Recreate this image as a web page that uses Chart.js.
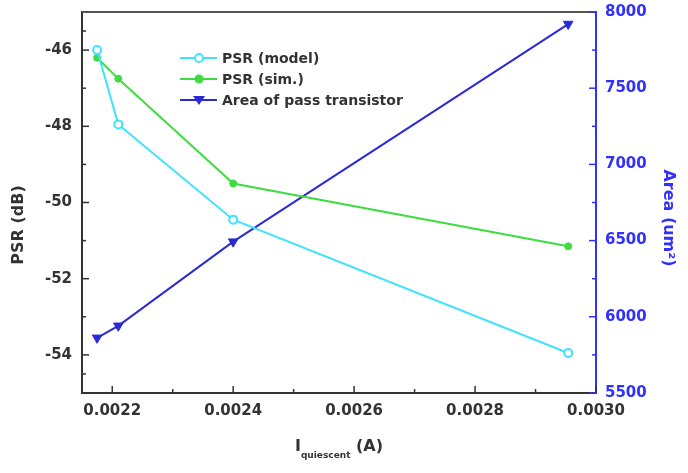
<!DOCTYPE html>
<html>
<head>
<meta charset="utf-8">
<script src="https://cdn.jsdelivr.net/npm/chart.js@4"></script>
<style>
  html, body { margin: 0; padding: 0; background: #fff; }
  #wrap { width: 688px; height: 473px; position: relative; }
</style>
</head>
<body>
<div id="wrap"><canvas id="myChart" width="688" height="473"></canvas></div>
<script>
// values
const current = [0.002175, 0.00221, 0.0024, 0.002954];
const psrModel = [-46.0, -47.95, -50.45, -53.95];
const psrSim = [-46.2, -46.75, -49.5, -51.15];
const area = [5862, 5941, 6493, 7921];
const xTicks = [0.0022, 0.0024, 0.0026, 0.0028, 0.0030];
const psrTicks = [-54, -52, -50, -48, -46];
const areaTicks = [5500, 6000, 6500, 7000, 7500, 8000];

const CYAN = '#3fe3ff';
const GREEN = '#3fdc3f';
const BLUE = '#2a2ad6';
const AXBLUE = '#3030ff';
const DARK = '#333333';
const FONT = '"DejaVu Sans", "Liberation Sans", sans-serif';

const pts = (ys) => current.map((x, i) => ({ x: x, y: ys[i] }));

function minors(arr) {
  const out = [];
  for (let i = 0; i < arr.length - 1; i++) out.push((arr[i] + arr[i + 1]) / 2);
  return out;
}

// inward tick marks, top frame, custom legend and axis titles
const decorations = {
  id: 'decorations',
  afterDraw(chart) {
    const ctx = chart.ctx;
    const a = chart.chartArea;
    const x = chart.scales.x, yl = chart.scales.y, yr = chart.scales.y2;
    ctx.save();
    // top frame
    ctx.strokeStyle = '#555';
    ctx.lineWidth = 2;
    ctx.beginPath(); ctx.moveTo(a.left, a.top); ctx.lineTo(a.right, a.top); ctx.stroke();

    ctx.lineWidth = 1.5;
    ctx.strokeStyle = DARK;
    xTicks.forEach(v => { const p = x.getPixelForValue(v); ctx.beginPath(); ctx.moveTo(p, a.bottom); ctx.lineTo(p, a.bottom - 7); ctx.stroke(); });
    minors(xTicks).forEach(v => { const p = x.getPixelForValue(v); ctx.beginPath(); ctx.moveTo(p, a.bottom); ctx.lineTo(p, a.bottom - 4); ctx.stroke(); });
    psrTicks.forEach(v => { const p = yl.getPixelForValue(v); ctx.beginPath(); ctx.moveTo(a.left, p); ctx.lineTo(a.left + 7, p); ctx.stroke(); });
    minors([-55].concat(psrTicks, [-45])).forEach(v => { const p = yl.getPixelForValue(v); ctx.beginPath(); ctx.moveTo(a.left, p); ctx.lineTo(a.left + 4, p); ctx.stroke(); });
    ctx.strokeStyle = AXBLUE;
    areaTicks.forEach(v => { const p = yr.getPixelForValue(v); ctx.beginPath(); ctx.moveTo(a.right, p); ctx.lineTo(a.right - 7, p); ctx.stroke(); });
    minors(areaTicks).forEach(v => { const p = yr.getPixelForValue(v); ctx.beginPath(); ctx.moveTo(a.right, p); ctx.lineTo(a.right - 4, p); ctx.stroke(); });

    // legend
    chart.data.datasets.forEach((ds, i) => {
      const ly = 58 + i * 21;
      ctx.strokeStyle = ds.borderColor;
      ctx.lineWidth = 2;
      ctx.beginPath(); ctx.moveTo(180, ly); ctx.lineTo(217, ly); ctx.stroke();
      ctx.fillStyle = ds.pointBackgroundColor;
      ctx.beginPath();
      if (ds.pointStyle === 'triangle') {
        ctx.moveTo(193, ly - 4); ctx.lineTo(205, ly - 4); ctx.lineTo(199, ly + 5); ctx.closePath();
        ctx.fill();
      } else {
        ctx.arc(199, ly, ds.pointRadius, 0, Math.PI * 2);
        ctx.fill(); ctx.stroke();
      }
      ctx.fillStyle = DARK;
      ctx.font = 'bold 14px ' + FONT;
      ctx.textBaseline = 'middle';
      ctx.textAlign = 'left';
      ctx.fillText(ds.label, 222, ly + 1);
    });

    // axis titles
    ctx.fillStyle = DARK;
    ctx.font = 'bold 16px ' + FONT;
    ctx.textAlign = 'center';
    ctx.textBaseline = 'middle';
    ctx.save(); ctx.translate(19, 225); ctx.rotate(-Math.PI / 2); ctx.fillText('PSR (dB)', 0, 0); ctx.restore();
    ctx.fillStyle = AXBLUE;
    ctx.save(); ctx.translate(668, 218); ctx.rotate(Math.PI / 2); ctx.fillText('Area (um\u00B2)', 0, 0); ctx.restore();

    ctx.fillStyle = DARK;
    ctx.textAlign = 'left';
    ctx.textBaseline = 'alphabetic';
    const big = 'bold 16px ' + FONT, small = 'bold 9px ' + FONT;
    ctx.font = big; const w1 = ctx.measureText('I').width;
    ctx.font = small; const w2 = ctx.measureText('quiescent').width;
    ctx.font = big; const w3 = ctx.measureText(' (A)').width;
    let sx = (a.left + a.right) / 2 - (w1 + w2 + w3) / 2;
    ctx.font = big; ctx.fillText('I', sx, 451); sx += w1;
    ctx.font = small; ctx.fillText('quiescent', sx, 458); sx += w2;
    ctx.font = big; ctx.fillText(' (A)', sx, 451);
    ctx.restore();
  }
};

const ctx = document.getElementById('myChart');

new Chart(ctx, {
  type: 'line',
  data: {
    datasets: [
      {
        label: 'PSR (model)',
        data: pts(psrModel),
        yAxisID: 'y',
        borderColor: CYAN,
        borderWidth: 2,
        pointStyle: 'circle',
        pointRadius: 4,
        pointBorderWidth: 2,
        pointBorderColor: CYAN,
        pointBackgroundColor: '#ffffff'
      },
      {
        label: 'PSR (sim.)',
        data: pts(psrSim),
        yAxisID: 'y',
        borderColor: GREEN,
        borderWidth: 2,
        pointStyle: 'circle',
        pointRadius: 3.5,
        pointBorderWidth: 1,
        pointBorderColor: GREEN,
        pointBackgroundColor: GREEN
      },
      {
        label: 'Area of pass transistor',
        data: pts(area),
        yAxisID: 'y2',
        borderColor: BLUE,
        borderWidth: 2,
        pointStyle: 'triangle',
        pointRotation: 180,
        pointRadius: 5.5,
        pointBorderWidth: 1,
        pointBorderColor: BLUE,
        pointBackgroundColor: BLUE
      }
    ]
  },
  options: {
    responsive: false,
    animation: false,
    devicePixelRatio: 1,
    layout: { padding: { top: 12, left: 0, right: 0, bottom: 0 } },
    plugins: {
      legend: { display: false },
      tooltip: { enabled: false }
    },
    scales: {
      x: {
        type: 'linear',
        min: 0.00215,
        max: 0.0030,
        afterBuildTicks: s => { s.ticks = xTicks.map(v => ({ value: v })); },
        afterFit: s => { s.height = 80; s.paddingLeft = 0; s.paddingRight = 0; },
        grid: { display: false, drawTicks: false },
        border: { color: DARK, width: 2 },
        ticks: {
          padding: 9,
          autoSkip: false,
          color: DARK,
          font: { family: FONT, size: 15, weight: 'bold' },
          maxRotation: 0,
          callback: v => v.toFixed(4)
        }
      },
      y: {
        position: 'left',
        min: -55,
        max: -45,
        afterBuildTicks: s => { s.ticks = psrTicks.map(v => ({ value: v })); },
        afterFit: s => { s.width = 82; s.paddingTop = 0; s.paddingBottom = 0; },
        grid: { display: false, drawTicks: false },
        border: { color: DARK, width: 2 },
        ticks: {
          padding: 10,
          autoSkip: false,
          color: DARK,
          font: { family: FONT, size: 15, weight: 'bold' },
          callback: v => String(v)
        }
      },
      y2: {
        position: 'right',
        min: 5500,
        max: 8000,
        afterBuildTicks: s => { s.ticks = areaTicks.map(v => ({ value: v })); },
        afterFit: s => { s.width = 92; s.paddingTop = 0; s.paddingBottom = 0; },
        grid: { display: false, drawTicks: false },
        border: { color: AXBLUE, width: 2 },
        ticks: {
          padding: 9,
          autoSkip: false,
          color: AXBLUE,
          font: { family: FONT, size: 15, weight: 'bold' },
          callback: v => String(v)
        }
      }
    }
  },
  plugins: [decorations]
});
</script>
</body>
</html>
